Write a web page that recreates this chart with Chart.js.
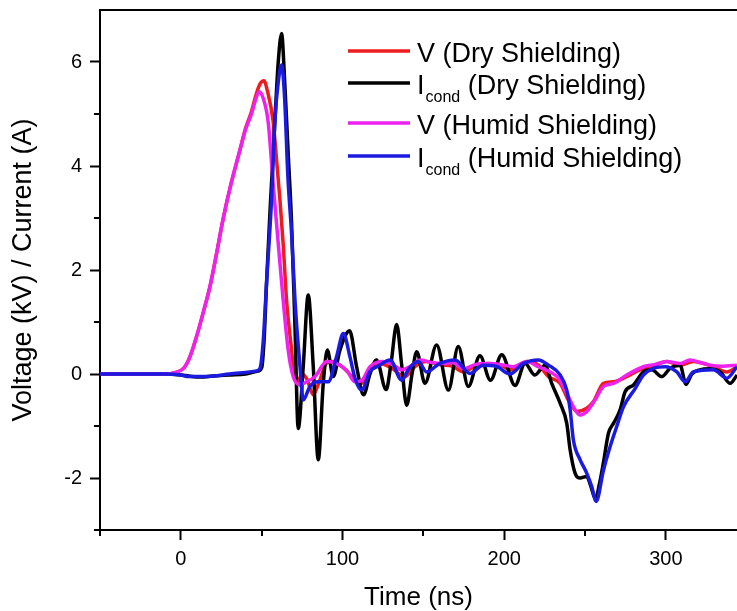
<!DOCTYPE html>
<html>
<head>
<meta charset="utf-8">
<script src="https://cdn.jsdelivr.net/npm/chart.js@4.4.1/dist/chart.umd.min.js"></script>
<style>
  html, body { margin: 0; padding: 0; background: #fff; overflow: hidden; }
  #wrap { width: 737px; height: 611px; }
</style>
</head>
<body>
<div id="wrap"><canvas id="waveChart" width="737" height="611"></canvas></div>
<script>
// Waveforms: time (ns) and value (kV or A)
const tVDry = [-50, -20, -8, -3, 2, 5.6, 10, 14, 18, 22, 26, 31, 36.5, 40, 43.7, 46.8, 49, 51.4, 53.5, 57, 59, 61.3, 63.3, 65.4, 68.5, 70.5, 72.6, 74.7, 78, 81.9, 85, 90.2, 94.3, 98.4, 103, 107.7, 111.8, 117, 123, 130, 138.6, 145, 152, 160, 168, 174.7, 182, 190, 198, 203.6, 209, 214, 221.2, 227.4, 234.6, 239.7, 244.9, 251.1, 255.2, 261.4, 267.6, 275.8, 284, 292, 300.6, 308.8, 317, 329.4, 337.7, 344];
const vDry = [0, 0, 0, 0.03, 0.12, 0.33, 0.75, 1.2, 1.68, 2.3, 2.96, 3.65, 4.3, 4.72, 5.05, 5.4, 5.58, 5.64, 5.45, 4.88, 4.2, 3.35, 2.5, 1.42, 0.46, -0.12, -0.15, 0.01, -0.1, -0.4, -0.2, 0.21, 0.24, 0.17, 0.05, -0.12, -0.18, 0.1, 0.2, 0.12, -0.05, 0.15, 0.24, 0.18, 0.15, 0.04, 0.15, 0.2, 0.17, 0.08, 0.15, 0.24, 0.17, -0.05, -0.18, -0.5, -0.72, -0.66, -0.53, -0.18, -0.15, -0.05, 0.08, 0.15, 0.24, 0.17, 0.24, 0.14, 0.04, 0.14];

const tIDry = [-50, -10, 0, 5, 12, 20, 30, 40, 47, 50, 51.5, 53, 55.1, 58.2, 60.2, 62.3, 64.4, 66.4, 68.5, 70.6, 72.6, 75.7, 78.8, 81.9, 85, 88.1, 90.6, 94.3, 98.4, 104.4, 108.7, 113, 117, 121, 127, 130, 133.5, 136.5, 139.7, 143, 145.9, 151, 158.2, 165.5, 171.6, 177.8, 185, 191.5, 198.5, 206.7, 212.9, 219, 225.3, 229.4, 234.6, 238.7, 240.8, 243.9, 247, 251.1, 253.5, 256.4, 259, 261.4, 264.5, 267.6, 271.7, 274.8, 280, 286.1, 291.3, 297.5, 302.6, 308.8, 312.5, 316, 321, 327, 333.6, 339.8, 344];
const iDry = [0, 0, -0.02, -0.04, -0.06, -0.04, -0.02, 0, 0.05, 0.12, 0.65, 1.74, 3.1, 4.88, 5.98, 6.55, 5.52, 4.24, 2.9, 0.9, -1.05, 0.14, 1.52, 0.14, -1.65, -0.18, 0.46, -0.05, 0.46, 0.83, 0.14, -0.4, 0.0, 0.27, -0.3, 0.2, 0.95, 0.2, -0.6, 0.0, 0.43, -0.18, 0.56, -0.31, 0.53, -0.24, 0.35, -0.12, 0.37, -0.22, 0.2, -0.02, 0.17, -0.18, -0.56, -0.95, -1.46, -1.91, -2.0, -1.97, -2.15, -2.4, -2.1, -1.7, -1.14, -0.95, -0.69, -0.34, -0.21, 0.04, 0.08, -0.05, 0.11, 0.17, -0.2, 0.0, 0.08, 0.1, 0.04, -0.18, -0.02];

const tVHumid = [-50, -20, -8, -3, 2, 5.6, 10, 14, 18, 22, 26, 31, 36.5, 40, 43.7, 46, 48.4, 51, 54, 57, 60, 63.3, 66.4, 69.5, 73.7, 77.8, 83, 90.2, 98.4, 103, 107.7, 112, 117, 125, 131, 136.6, 142, 148, 155, 162, 168, 175, 182, 190, 198, 205.7, 214, 221, 228.4, 233.5, 238.7, 243.9, 247, 251.1, 256.2, 261.4, 267.6, 275.8, 286.1, 293, 300.6, 308.8, 315, 321, 327.4, 335, 344];
const vHumid = [0, 0, 0, 0.03, 0.12, 0.33, 0.75, 1.2, 1.68, 2.3, 2.96, 3.65, 4.3, 4.7, 5.0, 5.25, 5.43, 5.3, 4.85, 3.7, 2.6, 1.42, 0.46, -0.05, -0.21, -0.15, -0.05, 0.24, 0.17, 0.05, -0.15, -0.12, 0.14, 0.24, 0.18, 0.08, 0.15, 0.27, 0.22, 0.2, 0.22, 0.1, 0.18, 0.2, 0.18, 0.14, 0.24, 0.14, 0.04, -0.08, -0.37, -0.69, -0.79, -0.72, -0.5, -0.24, -0.18, -0.02, 0.14, 0.18, 0.24, 0.2, 0.27, 0.22, 0.17, 0.15, 0.17];

const tIHumid = [-50, -10, 0, 5, 12, 20, 30, 40, 47, 49, 51, 53, 56.1, 58.2, 60.2, 62.3, 64.2, 66.2, 68.5, 70.6, 73.7, 75.7, 79.8, 85, 91.2, 96.3, 100.5, 104.6, 107.7, 111.8, 117, 122, 129.4, 136.6, 141, 146.9, 152, 160, 169.6, 178.9, 187, 195, 203.6, 211.7, 221.2, 227.4, 234.6, 238.7, 240.8, 242.8, 247, 251.1, 254.2, 256.9, 261.4, 265.5, 269.6, 273.8, 281, 286.1, 292.3, 299.6, 306.8, 311.9, 317, 329.4, 337.7, 344];
const iHumid = [0, 0, -0.02, -0.05, -0.05, -0.04, 0, 0.03, 0.06, 0.11, 0.65, 1.74, 3.35, 4.88, 5.6, 5.94, 5.3, 3.8, 2.7, 1.42, 0.14, -0.5, -0.24, -0.15, -0.15, 0.33, 0.78, 0.33, -0.08, -0.31, 0.05, 0.15, 0.27, -0.12, 0.1, 0.24, 0.04, 0.2, 0.27, 0.01, 0.17, 0.15, 0.0, 0.2, 0.27, 0.17, -0.02, -0.31, -0.69, -1.27, -1.65, -1.91, -2.17, -2.45, -1.85, -1.4, -1.01, -0.63, -0.28, -0.02, 0.11, 0.14, 0.04, -0.15, 0.04, 0.08, -0.08, 0.14];

// Axis ticks
const xTicks = [0, 100, 200, 300];
const xMinorTicks = [-50, 50, 150, 250];
const yTicks = [-2, 0, 2, 4, 6];
const yMinorTicks = [-3, -1, 1, 3, 5];

// Legend entries: main letter, subscript, rest of label
const legendItems = [
  { main: "V", sub: "", rest: " (Dry Shielding)" },
  { main: "I", sub: "cond", rest: " (Dry Shielding)" },
  { main: "V", sub: "", rest: " (Humid Shielding)" },
  { main: "I", sub: "cond", rest: " (Humid Shielding)" },
];

const FONT = '"Liberation Sans", Arial, sans-serif';

function toPoints(ts, vs) {
  return ts.map((t, i) => ({ x: t, y: vs[i] }));
}

// minor ticks and the top frame line
const axisExtras = {
  id: "axisExtras",
  afterDraw(chart) {
    const { ctx, chartArea } = chart;
    const xs = chart.scales.x;
    const ys = chart.scales.y;
    ctx.save();
    ctx.strokeStyle = "#000";
    ctx.lineWidth = 2;
    ctx.beginPath();
    ctx.moveTo(chartArea.left - 1, chartArea.top);
    ctx.lineTo(chartArea.right, chartArea.top);
    xMinorTicks.forEach((v) => {
      const px = Math.round(xs.getPixelForValue(v));
      ctx.moveTo(px, chartArea.bottom);
      ctx.lineTo(px, chartArea.bottom + 6);
    });
    yMinorTicks.forEach((v) => {
      const py = Math.round(ys.getPixelForValue(v));
      ctx.moveTo(chartArea.left, py);
      ctx.lineTo(chartArea.left - 6, py);
    });
    ctx.stroke();
    ctx.restore();
  },
};

// legend with subscripts
const subLegend = {
  id: "subLegend",
  afterDraw(chart) {
    const ctx = chart.ctx;
    const baselines = [62, 94, 134, 167];
    ctx.save();
    legendItems.forEach((item, i) => {
      const base = baselines[i];
      const ds = chart.data.datasets[i];
      ctx.strokeStyle = ds.borderColor;
      ctx.lineWidth = 3.5;
      ctx.beginPath();
      ctx.moveTo(348, base - 11);
      ctx.lineTo(410, base - 11);
      ctx.stroke();

      ctx.fillStyle = "#000";
      ctx.textBaseline = "alphabetic";
      ctx.textAlign = "left";
      let x = 417;
      ctx.font = "27px " + FONT;
      ctx.fillText(item.main, x, base);
      x += ctx.measureText(item.main).width;
      if (item.sub) {
        ctx.font = "16px " + FONT;
        ctx.fillText(item.sub, x + 1, base + 8);
        x += ctx.measureText(item.sub).width + 1;
      }
      ctx.font = "27px " + FONT;
      ctx.fillText(item.rest, x, base);
    });
    ctx.restore();
  },
};

const ctx = document.getElementById("waveChart").getContext("2d");

new Chart(ctx, {
  type: "line",
  data: {
    datasets: [
      { label: "V (Dry Shielding)", data: toPoints(tVDry, vDry), borderColor: "#ee1c1c", order: 4 },
      { label: "Icond (Dry Shielding)", data: toPoints(tIDry, iDry), borderColor: "#000000", order: 3 },
      { label: "V (Humid Shielding)", data: toPoints(tVHumid, vHumid), borderColor: "#ee22ee", order: 2 },
      { label: "Icond (Humid Shielding)", data: toPoints(tIHumid, iHumid), borderColor: "#1a1ae0", order: 1 },
    ],
  },
  options: {
    responsive: false,
    animation: false,
    devicePixelRatio: 1,
    layout: { padding: { top: 10, right: 0, bottom: 0, left: 0 } },
    elements: {
      point: { radius: 0 },
      line: { borderWidth: 3.5, cubicInterpolationMode: "monotone", fill: false },
    },
    plugins: {
      legend: { display: false },
      tooltip: { enabled: false },
    },
    scales: {
      x: {
        type: "linear",
        min: -50,
        max: 344,
        afterFit: (s) => { s.height = 81; s.paddingLeft = 0; s.paddingRight = 0; },
        afterBuildTicks: (s) => { s.ticks = xTicks.map((v) => ({ value: v })); },
        border: { color: "#000", width: 2 },
        grid: { drawOnChartArea: false, drawTicks: true, tickLength: 10, tickWidth: 2, tickColor: "#000" },
        ticks: { color: "#000", font: { family: FONT, size: 20 }, padding: 7, maxRotation: 0 },
        title: { display: true, text: "Time (ns)", color: "#000", font: { family: FONT, size: 26 }, padding: { top: 0, bottom: -2 } },
      },
      y: {
        type: "linear",
        min: -3,
        max: 7,
        afterFit: (s) => { s.width = 100; s.paddingTop = 0; s.paddingBottom = 0; },
        afterBuildTicks: (s) => { s.ticks = yTicks.map((v) => ({ value: v })); },
        border: { color: "#000", width: 2 },
        grid: { drawOnChartArea: false, drawTicks: true, tickLength: 10, tickWidth: 2, tickColor: "#000" },
        ticks: { color: "#000", font: { family: FONT, size: 20 }, padding: 8 },
        title: { display: true, text: "Voltage (kV) / Current (A)", color: "#000", font: { family: FONT, size: 27 }, padding: { top: 7, bottom: 0 } },
      },
    },
  },
  plugins: [axisExtras, subLegend],
});
</script>
</body>
</html>
